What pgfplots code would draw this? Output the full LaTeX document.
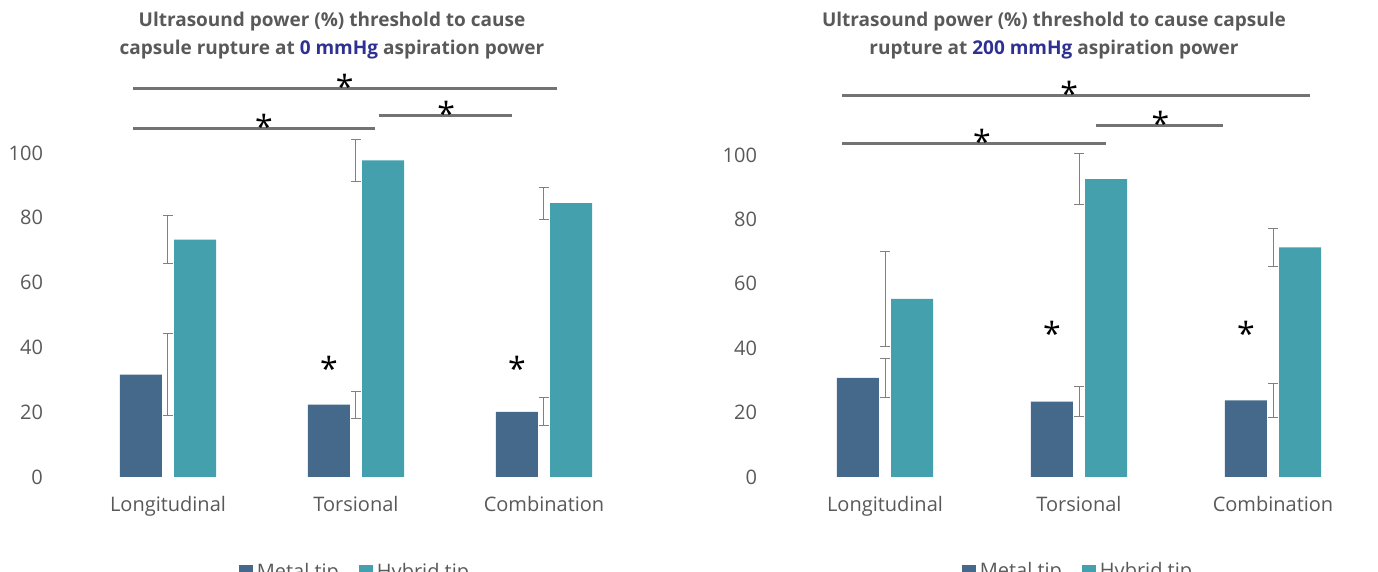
\documentclass[border=0pt]{standalone}
\usepackage{pgfplots}
\pgfplotsset{compat=1.18}
\usepackage{fontspec}
\setmainfont{Open Sans}
\definecolor{metal}{HTML}{44698A}
\definecolor{hybrid}{HTML}{44A0AD}
\definecolor{tg}{HTML}{595959}
\definecolor{tb}{HTML}{2E3192}
\tikzset{sig/.style={draw=gray!90!black, line width=1.5pt}}
\pgfplotsset{
  mystyle/.style={
    scale only axis, anchor=south west,
    xmin=-0.5, xmax=2.5, ymin=0, ymax=125,
    xtick={0,1,2}, xticklabels={Longitudinal,Torsional,Combination},
    ytick={0,20,...,100},
    axis line style={draw=none},
    axis x line*=bottom, axis y line*=left,
    major tick length=0pt,
    tick label style={font=\fontsize{10}{12}\selectfont, text=tg},
    xticklabel style={yshift=-6pt},
    yticklabel style={xshift=-12pt},
    /pgf/number format/assume math mode=true,
    clip=false,
    legend style={draw=none, at={(0.5,-0.235)}, anchor=center, legend columns=2,
      font=\fontsize{10}{12}\selectfont, text=tg, /tikz/every even column/.append style={column sep=8pt}},
    legend image code/.code={\fill[##1] (0pt,-3.5pt) rectangle (7pt,3.5pt);},
    error bars/y dir=both, error bars/y explicit,
    error bars/error bar style={gray, line width=0.5pt},
    error bars/error mark options={rotate=90, mark size=2.5pt, gray, line width=0.5pt},
  },
}
\begin{document}
\begin{tikzpicture}
\useasboundingbox (0,0) rectangle (689pt,286pt);
\begin{axis}[mystyle, at={(37pt,47.5pt)}, width=282pt, height=202.5pt]
\addplot[ybar, bar width=0.223, bar shift=-0.144, fill=metal, draw=none]
  coordinates {(0,31.6) +- (0,12.6) (1,22.3) +- (0,4.1) (2,20.1) +- (0,4.3)};
\addplot[ybar, bar width=0.223, bar shift=0.144, fill=hybrid, draw=none]
  coordinates {(0,73.3) +- (0,7.5) (1,97.7) +- (0,6.5) (2,84.5) +- (0,5.0)};
\legend{Metal tip, Hybrid tip}
\draw[sig] (axis cs:-0.186,120) -- (axis cs:2.07,120);
\draw[sig] (axis cs:-0.186,107.7) -- (axis cs:1.10,107.7);
\draw[sig] (axis cs:1.12,111.7) -- (axis cs:1.83,111.7);
\node[font=\fontsize{16}{16}\selectfont] at (axis cs:0.94,120.5) {*};
\node[font=\fontsize{16}{16}\selectfont] at (axis cs:0.51,108.2) {*};
\node[font=\fontsize{16}{16}\selectfont] at (axis cs:1.48,112.2) {*};
\node[font=\fontsize{16}{16}\selectfont] at (axis cs:0.856,33.5) {*};
\node[font=\fontsize{16}{16}\selectfont] at (axis cs:1.856,33.5) {*};
\end{axis}
\node[align=center, font=\bfseries\fontsize{9.5}{14}\selectfont, text=tg] at (166pt,268pt)
 {Ultrasound power (\%) threshold to cause\\capsule rupture at \textcolor{tb}{0 mmHg} aspiration power};
\begin{axis}[mystyle, at={(394pt,47.5pt)}, width=291pt, height=201.25pt]
\addplot[ybar, bar width=0.216, bar shift=-0.14, fill=metal, draw=none]
  coordinates {(0,30.8) +- (0,6.0) (1,23.4) +- (0,4.7) (2,23.8) +- (0,5.3)};
\addplot[ybar, bar width=0.216, bar shift=0.14, fill=hybrid, draw=none]
  coordinates {(0,55.3) +- (0,14.7) (1,92.5) +- (0,8.0) (2,71.3) +- (0,5.8)};
\legend{Metal tip, Hybrid tip}
\draw[sig] (axis cs:-0.22,118.6) -- (axis cs:2.19,118.6);
\draw[sig] (axis cs:-0.22,103.7) -- (axis cs:1.14,103.7);
\draw[sig] (axis cs:1.09,109.3) -- (axis cs:1.74,109.3);
\node[font=\fontsize{16}{16}\selectfont] at (axis cs:0.95,119.1) {*};
\node[font=\fontsize{16}{16}\selectfont] at (axis cs:0.5,104.2) {*};
\node[font=\fontsize{16}{16}\selectfont] at (axis cs:1.42,109.8) {*};
\node[font=\fontsize{16}{16}\selectfont] at (axis cs:0.86,44.5) {*};
\node[font=\fontsize{16}{16}\selectfont] at (axis cs:1.86,44.5) {*};
\end{axis}
\node[align=center, font=\bfseries\fontsize{9.5}{14}\selectfont, text=tg] at (527pt,268pt)
 {Ultrasound power (\%) threshold to cause capsule\\rupture at \textcolor{tb}{200 mmHg} aspiration power};
\end{tikzpicture}
\end{document}
